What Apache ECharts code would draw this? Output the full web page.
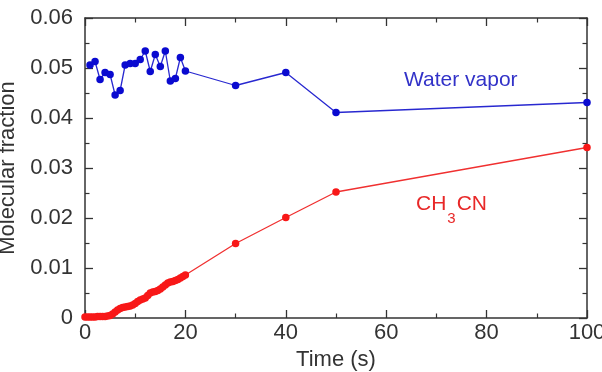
<!DOCTYPE html>
<html><head><meta charset="utf-8">
<script src="https://cdn.jsdelivr.net/npm/echarts@6/dist/echarts.min.js"></script>
<style>html,body{margin:0;padding:0;background:#fff}#c{width:602px;height:372px}</style>
</head><body><div id="c"></div>
<script>
var waterTime = [1,2,3,4,5,6,7,8,9,10,11,12,13,14,15,16,17,18,19,20,30,40,50,100];
var waterValues = [0.0506,0.0513,0.0477,0.0491,0.0487,0.0446,0.0455,0.0506,0.0509,0.0509,0.0517,0.0534,0.0493,0.0527,0.0503,0.0534,0.0474,0.0479,0.0521,0.0494,0.0465,0.0491,0.0411,0.0431];
var ch3cnTime = [0,0.5,1,1.5,2,2.5,3,3.5,4,4.5,5,5.5,6,6.5,7,7.5,8,8.5,9,9.5,10,10.5,11,11.5,12,12.5,13,13.5,14,14.5,15,15.5,16,16.5,17,17.5,18,18.5,19,19.5,20,30,40,50,100];
var ch3cnValues = [0.0002,0.0002,0.0002,0.0002,0.0002,0.0003,0.0003,0.0003,0.0003,0.0004,0.0005,0.0008,0.0012,0.0016,0.0019,0.0021,0.0022,0.0023,0.0024,0.0026,0.0029,0.0033,0.0036,0.0038,0.0040,0.0045,0.0050,0.0052,0.0053,0.0055,0.0058,0.0062,0.0066,0.0070,0.0072,0.0073,0.0075,0.0077,0.0080,0.0083,0.0086,0.0149,0.0201,0.0252,0.0341];
var xTicks = [0,20,40,60,80,100];
var yTicks = [0,0.01,0.02,0.03,0.04,0.05,0.06];

function pairs(xs, ys){ return xs.map(function(x,i){return [x, ys[i]];}); }
var FONT = 'Liberation Sans, Arial, sans-serif';
var axisLine = {show:true, onZero:false, lineStyle:{color:'#333', width:1.5}};
var tick = {show:true, inside:true, length:8, lineStyle:{color:'#333', width:1.3}};
var minor = {show:true, splitNumber:2, length:4.5, lineStyle:{color:'#333', width:1.2}};
var chart = echarts.init(document.getElementById('c'));
chart.setOption({
  animation:false,
  grid:{left:85, right:15, top:18, bottom:54, outerBoundsMode:'none', containLabel:false},
  xAxis:[{
    type:'value', min:0, max:100, interval:20, position:'bottom',
    name:'Time (s)', nameLocation:'middle', nameGap:25,
    nameTextStyle:{fontFamily:FONT, fontSize:22, color:'#333'},
    axisLine:axisLine, axisTick:tick, minorTick:minor, splitLine:{show:false},
    axisLabel:{fontFamily:FONT, fontSize:22, color:'#333', margin:4, hideOverlap:false,
      formatter:function(v){return xTicks.indexOf(v)>=0 ? String(v) : '';}}
  },{
    type:'value', min:0, max:100, interval:20, position:'top',
    axisLine:axisLine, axisTick:tick, minorTick:minor, splitLine:{show:false},
    axisLabel:{show:false}
  }],
  yAxis:[{
    type:'value', min:0, max:0.06, interval:0.01, position:'left',
    name:'Molecular fraction', nameLocation:'middle', nameGap:62, nameRotate:90,
    nameTextStyle:{fontFamily:FONT, fontSize:22, color:'#333'},
    axisLine:axisLine, axisTick:tick, minorTick:minor, splitLine:{show:false},
    axisLabel:{fontFamily:FONT, fontSize:22, color:'#333', margin:12,
      formatter:function(v){
        for (var i=0;i<yTicks.length;i++){ if (Math.abs(v-yTicks[i])<1e-9) return yTicks[i]===0?'0':yTicks[i].toFixed(2); }
        return '';
      }}
  },{
    type:'value', min:0, max:0.06, interval:0.01, position:'right',
    axisLine:axisLine, axisTick:tick, minorTick:minor, splitLine:{show:false},
    axisLabel:{show:false}
  }],
  series:[{
    type:'line', name:'Water vapor', data:pairs(waterTime, waterValues),
    symbol:'circle', symbolSize:7.5, xAxisIndex:0, yAxisIndex:0,
    lineStyle:{color:'#2828d0', width:1.3}, itemStyle:{color:'#0a0ad0'}
  },{
    type:'line', name:'CH3CN', data:pairs(ch3cnTime, ch3cnValues),
    symbol:'circle', symbolSize:7.5, xAxisIndex:0, yAxisIndex:0,
    lineStyle:{color:'#f03030', width:1.3}, itemStyle:{color:'#f81818'}
  }],
  graphic:[{
    type:'text', left:404, top:70,
    style:{text:'Water vapor', fontFamily:FONT, fontSize:21, fill:'#3232c8'}
  },{
    type:'text', left:416, top:194,
    style:{text:'{a|CH}{s|3}{a|CN}', fontFamily:FONT,
      rich:{a:{fontFamily:FONT, fontSize:21, fill:'#e82828', color:'#e82828'},
            s:{fontFamily:FONT, fontSize:15, fill:'#e82828', color:'#e82828', padding:[28,1,0,1]}}}
  }]
});
</script></body></html>
